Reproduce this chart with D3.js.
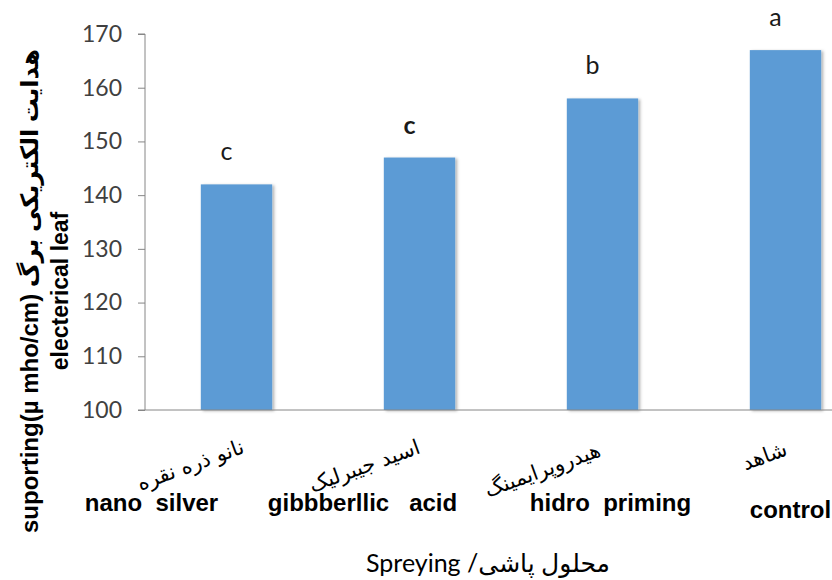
<!DOCTYPE html>
<html>
<head>
<meta charset="utf-8">
<script src="https://cdn.jsdelivr.net/npm/d3@7"></script>
<style>
  html, body { margin: 0; padding: 0; background: #fff; }
  svg { display: block; }
  text { white-space: pre; }
</style>
</head>
<body>
<svg id="chart" width="832" height="580"></svg>
<script>
// ---- data ----
const categoriesEn = ["nano  silver", "gibbberllic   acid", "hidro  priming", "control"];
const categoriesFa = ["نانو ذره نقره", "اسید جیبرلیک", "هیدروپرایمینگ", "شاهد"];
const values = [142, 147, 158, 167];
const letters = ["c", "c", "b", "a"];
const letterBold = [false, true, false, false];
const yTicks = [100, 110, 120, 130, 140, 150, 160, 170];
const yTitleLine1 = "suporting(µ mho/cm) هدایت الکتریکی برگ";
const yTitleLine2 = "electerical leaf";
const xTitle = "Spreying /محلول پاشی";

// ---- layout ----
const svg = d3.select("#chart");
const W = 832, H = 580;
const plotLeft = 145, plotTop = 34, plotBottom = 410;
const step = 183;

const x = d3.scaleBand()
  .domain(d3.range(values.length))
  .range([plotLeft, plotLeft + step * values.length])
  .paddingInner(0.61)
  .paddingOuter(0.305);

const y = d3.scaleLinear().domain([100, 170]).range([plotBottom, plotTop]);

const defs = svg.append("defs");
const f = defs.append("filter").attr("id", "shadow")
  .attr("x", "-20%").attr("y", "-20%").attr("width", "140%").attr("height", "140%");
f.append("feDropShadow").attr("dx", 2).attr("dy", 1).attr("stdDeviation", 1.8)
  .attr("flood-color", "#000").attr("flood-opacity", 0.3);

// y axis
const yAxis = d3.axisLeft(y).tickValues(yTicks).tickSize(7).tickPadding(16);
const gy = svg.append("g").attr("transform", `translate(${plotLeft},0)`).call(yAxis);
gy.select(".domain").attr("stroke", "#868686").attr("d", `M-7,${plotTop}H0V${plotBottom}`);
gy.selectAll(".tick line").attr("stroke", "#868686");
gy.selectAll(".tick text")
  .attr("fill", "#404040")
  .style("font-family", "Lato, 'Open Sans', sans-serif")
  .style("font-size", "23px");

// bars
svg.append("g").selectAll("rect")
  .data(values)
  .join("rect")
  .attr("x", (d, i) => x(i))
  .attr("y", d => y(d))
  .attr("width", x.bandwidth())
  .attr("height", d => y(100) - y(d))
  .attr("fill", "#5B9BD5")
  .attr("filter", "url(#shadow)");

// x axis baseline
svg.append("line")
  .attr("x1", plotLeft - 7).attr("x2", W + 10)
  .attr("y1", y(100)).attr("y2", y(100))
  .attr("stroke", "#868686").attr("stroke-width", 1);

// significance letters
svg.append("g").selectAll("text")
  .data(letters)
  .join("text")
  .attr("x", (d, i) => x(i) + x.bandwidth() / 2 - 10)
  .attr("y", (d, i) => y(values[i]) - 24)
  .attr("text-anchor", "middle")
  .attr("fill", "#1a1a1a")
  .style("font-family", "Lato, 'Open Sans', sans-serif")
  .style("font-size", "25px")
  .style("font-weight", (d, i) => letterBold[i] ? "bold" : "normal")
  .text(d => d);

// category labels (nudges relative to bar centres)
const enNudge = [[-85, 511], [-57, 511], [8, 511], [5, 518]];
const faNudge = [[-46, 465], [-55, 466], [-60, 470], [-21, 456]];

svg.append("g").selectAll("text")
  .data(categoriesEn)
  .join("text")
  .attr("x", (d, i) => x(i) + x.bandwidth() / 2 + enNudge[i][0])
  .attr("y", (d, i) => enNudge[i][1])
  .attr("text-anchor", "middle")
  .attr("fill", "#000")
  .style("font-family", "'Liberation Sans', Arial, sans-serif")
  .style("font-weight", "bold")
  .style("font-size", "24px")
  .text(d => d);

svg.append("g").selectAll("text")
  .data(categoriesFa)
  .join("text")
  .attr("transform", (d, i) => `translate(${x(i) + x.bandwidth() / 2 + faNudge[i][0]},${faNudge[i][1]}) rotate(-20)`)
  .attr("text-anchor", "middle")
  .attr("dominant-baseline", "central")
  .attr("fill", "#000")
  .style("font-family", "'DejaVu Sans', sans-serif")
  .style("font-size", "21px")
  .text(d => d);

// x title
svg.append("text")
  .attr("x", 488).attr("y", 572)
  .attr("text-anchor", "middle")
  .attr("fill", "#000")
  .attr("direction", "ltr")
  .style("font-family", "Lato, 'DejaVu Sans', sans-serif")
  .style("font-size", "25px")
  .text(xTitle);

// y title
const yt = svg.append("g").attr("transform", `translate(0,${(plotTop + H) / 2 - 16}) rotate(-90)`);
yt.append("text")
  .attr("x", 0).attr("y", 38)
  .attr("text-anchor", "middle")
  .attr("direction", "ltr")
  .attr("fill", "#000")
  .style("font-family", "'Liberation Sans', 'DejaVu Sans', sans-serif")
  .style("font-weight", "bold")
  .style("font-size", "24px")
  .text(yTitleLine1);
yt.append("text")
  .attr("x", 0).attr("y", 68)
  .attr("text-anchor", "middle")
  .attr("fill", "#000")
  .style("font-family", "'Liberation Sans', sans-serif")
  .style("font-weight", "bold")
  .style("font-size", "23px")
  .text(yTitleLine2);
</script>
</body>
</html>
